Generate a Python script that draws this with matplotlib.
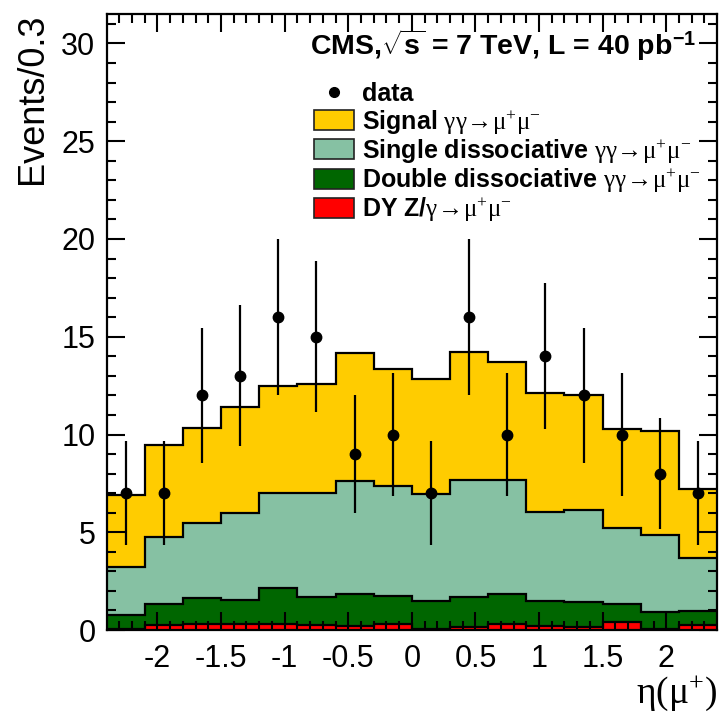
import numpy as np
import matplotlib
matplotlib.use("Agg")
import matplotlib.pyplot as plt
from matplotlib.patches import Patch
from matplotlib.lines import Line2D

# eta(mu+) binning, 16 bins of 0.3
bin_edges = np.round(np.arange(-2.4, 2.41, 0.3), 2)

# stacked MC contributions, events per bin
dy_z = [0.05, 0.26, 0.29, 0.29, 0.29, 0.25, 0.2, 0.3, 0.05, 0.15, 0.3, 0.2, 0.15, 0.4, 0.05, 0.25]
double_diss = [0.72, 1.05, 1.33, 1.27, 1.84, 1.45, 1.62, 1.43, 1.45, 1.52, 1.54, 1.28, 1.3, 0.93, 0.89, 0.74]
single_diss = [2.46, 3.45, 3.87, 4.44, 4.87, 5.3, 5.78, 5.63, 5.44, 5.98, 5.81, 4.56, 4.71, 3.91, 3.94, 2.67]
signal = [3.66, 4.68, 4.85, 5.39, 5.47, 5.58, 6.57, 5.99, 5.9, 6.58, 6.07, 6.09, 5.88, 5.02, 5.32, 3.57]

# observed events
data_counts = [7, 7, 12, 13, 16, 15, 9, 10, 7, 16, 10, 14, 12, 10, 8, 7]

plt.rcParams['font.family'] = ['Liberation Sans', 'DejaVu Sans']
plt.rcParams['mathtext.fontset'] = 'custom'
plt.rcParams['mathtext.rm'] = 'Liberation Serif'
plt.rcParams['mathtext.it'] = 'Liberation Serif:italic'
plt.rcParams['mathtext.bf'] = 'Liberation Sans:bold'
plt.rcParams['mathtext.default'] = 'rm'

fig = plt.figure(figsize=(7.2, 7.17), dpi=100)
ax = fig.add_axes([0.148, 0.1213, 0.848, 0.859])

# cumulative stack, drawn from the top down
lvl_red = np.array(dy_z)
lvl_dd = lvl_red + np.array(double_diss)
lvl_sd = lvl_dd + np.array(single_diss)
lvl_sig = lvl_sd + np.array(signal)

proc = r'$\gamma\gamma\!\rightarrow\!\mu^{+}\mu^{-}$'
stack = [
    (lvl_sig, '#FFCC00', 'Signal ' + proc),
    (lvl_sd, '#86C1A3', 'Single dissociative ' + proc),
    (lvl_dd, '#006600', 'Double dissociative ' + proc),
    (lvl_red, '#FF0000', r'DY Z/$\gamma\!\rightarrow\!\mu^{+}\mu^{-}$'),
]
handles = []
for vals, col, lab in stack:
    ax.stairs(vals, bin_edges, fill=True, color=col, zorder=1)
    ax.stairs(vals, bin_edges, color='black', lw=1.6, zorder=1.5, baseline=None)
    handles.append(Patch(facecolor=col, edgecolor='#222222', lw=1.2, label=lab))

centers = 0.5 * (bin_edges[:-1] + bin_edges[1:])
counts = np.array(data_counts)
ax.errorbar(centers, counts, yerr=np.sqrt(counts), fmt='o', color='black',
            ms=7.5, elinewidth=1.6, capsize=0, zorder=3)

ax.set_xlim(-2.4, 2.4)
ax.set_ylim(0, 31.5)
ax.set_xticks([-2, -1.5, -1, -0.5, 0, 0.5, 1, 1.5, 2])
ax.set_xticklabels(['-2', '-1.5', '-1', '-0.5', '0', '0.5', '1', '1.5', '2'])
ax.set_xticks(np.round(np.arange(-2.3, 2.4, 0.1), 2), minor=True)
ax.set_yticks([0, 5, 10, 15, 20, 25, 30])
ax.set_yticks(np.arange(0, 32, 1), minor=True)
ax.tick_params(which='both', direction='in', top=True, right=True, width=1.5,
               labelsize=22)
ax.tick_params(which='major', length=13)
ax.tick_params(which='minor', length=6.5)
ax.tick_params(axis='x', which='major', pad=10)
ax.tick_params(axis='y', which='major', pad=8)
for sp in ax.spines.values():
    sp.set_linewidth(1.6)

ax.set_ylabel('Events/0.3', fontsize=26, loc='top', labelpad=8)
ax.set_xlabel(r'$\eta(\mu^{+})$', fontsize=27, loc='right', labelpad=0)

ax.text(0.334, 0.95, r'CMS,$\sqrt{\mathbf{s}}$ = 7 TeV, L = 40 pb$^{\mathbf{-1}}$',
        transform=ax.transAxes, fontsize=20.5, fontweight='bold', va='center', ha='left')

data_handle = Line2D([], [], marker='o', color='black', ls='none', ms=7, label='data')
leg = ax.legend(handles=[data_handle] + handles, loc='upper left',
                bbox_to_anchor=(0.34, 0.889), frameon=False, borderpad=0,
                handlelength=1.6, handleheight=0.85, handletextpad=0.3,
                labelspacing=0.05, borderaxespad=0,
                prop={'weight': 'bold', 'size': 18})

fig.savefig('out.png', dpi=100)
